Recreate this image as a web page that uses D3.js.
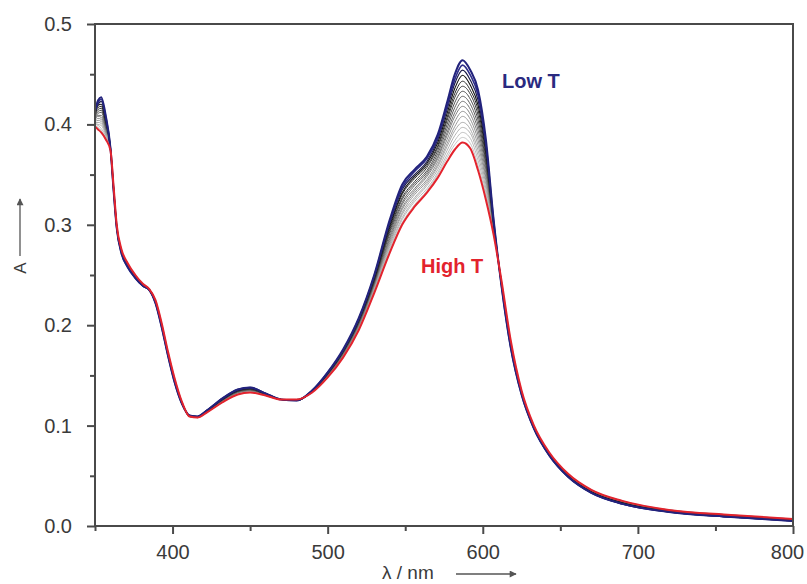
<!DOCTYPE html>
<html>
<head>
<meta charset="utf-8">
<script src="https://cdn.jsdelivr.net/npm/d3@7/dist/d3.min.js"></script>
<style>
  html, body { margin: 0; padding: 0; background: #fff; }
  svg { display: block; }
</style>
</head>
<body>
<svg id="chart" width="807" height="584"></svg>
<script>
// Wavelength grid (nm) shared by every spectrum
const wavelengths = [350,352,354,357,360,362,364,367,371,376,381,385,389,393,397,401,406,411,416,422,432,442,450,460,470,480,490,500,510,520,530,540,548,556,564,571,577,582,587,592,597,602,607,612,618,625,633,643,655,670,690,720,760,800];

// Absorbance spectra, from the lowest temperature to the highest
const lowT   = [0.414,0.424,0.427,0.408,0.376,0.334,0.297,0.272,0.258,0.247,0.239,0.235,0.222,0.198,0.170,0.145,0.122,0.110,0.109,0.115,0.127,0.136,0.138,0.132,0.126,0.125,0.135,0.153,0.176,0.207,0.250,0.305,0.340,0.355,0.368,0.390,0.422,0.450,0.464,0.454,0.434,0.385,0.305,0.240,0.178,0.131,0.097,0.070,0.049,0.033,0.022,0.014,0.009,0.005];
const step02 = [0.413,0.422,0.425,0.407,0.376,0.334,0.297,0.272,0.258,0.247,0.239,0.235,0.222,0.198,0.170,0.145,0.122,0.110,0.109,0.115,0.127,0.136,0.138,0.132,0.126,0.125,0.135,0.153,0.175,0.206,0.249,0.303,0.337,0.353,0.366,0.387,0.418,0.445,0.459,0.449,0.429,0.381,0.304,0.240,0.178,0.131,0.097,0.070,0.049,0.033,0.022,0.014,0.009,0.005];
const step03 = [0.412,0.420,0.423,0.405,0.376,0.335,0.297,0.273,0.259,0.247,0.239,0.235,0.222,0.199,0.171,0.146,0.122,0.110,0.109,0.115,0.126,0.135,0.137,0.132,0.126,0.125,0.135,0.152,0.175,0.205,0.248,0.301,0.335,0.350,0.363,0.385,0.415,0.441,0.454,0.444,0.424,0.377,0.303,0.241,0.179,0.132,0.097,0.070,0.049,0.033,0.022,0.014,0.009,0.005];
const step04 = [0.411,0.419,0.420,0.404,0.376,0.335,0.298,0.273,0.259,0.248,0.239,0.235,0.223,0.199,0.171,0.146,0.122,0.110,0.109,0.115,0.126,0.135,0.137,0.132,0.126,0.125,0.135,0.152,0.174,0.205,0.247,0.299,0.332,0.348,0.361,0.382,0.411,0.436,0.449,0.439,0.419,0.374,0.302,0.241,0.179,0.132,0.098,0.071,0.050,0.034,0.023,0.014,0.009,0.005];
const step05 = [0.410,0.417,0.418,0.402,0.375,0.335,0.298,0.273,0.259,0.248,0.240,0.235,0.223,0.199,0.171,0.146,0.123,0.110,0.109,0.114,0.126,0.135,0.137,0.131,0.126,0.125,0.134,0.152,0.174,0.204,0.245,0.297,0.330,0.346,0.359,0.379,0.407,0.431,0.443,0.434,0.414,0.370,0.301,0.241,0.180,0.132,0.098,0.071,0.050,0.034,0.023,0.015,0.010,0.006];
const step06 = [0.409,0.415,0.416,0.401,0.375,0.335,0.298,0.273,0.259,0.248,0.240,0.235,0.223,0.199,0.171,0.146,0.123,0.110,0.109,0.114,0.126,0.134,0.136,0.131,0.126,0.125,0.134,0.151,0.173,0.203,0.244,0.295,0.327,0.343,0.357,0.377,0.404,0.427,0.438,0.430,0.409,0.366,0.300,0.242,0.180,0.132,0.098,0.071,0.050,0.034,0.023,0.015,0.010,0.006];
const step07 = [0.408,0.413,0.414,0.399,0.375,0.336,0.298,0.274,0.260,0.248,0.240,0.235,0.223,0.200,0.172,0.147,0.123,0.110,0.109,0.114,0.125,0.134,0.136,0.131,0.126,0.125,0.134,0.151,0.173,0.202,0.243,0.293,0.325,0.341,0.354,0.374,0.400,0.422,0.433,0.425,0.404,0.362,0.299,0.242,0.181,0.133,0.098,0.071,0.050,0.034,0.023,0.015,0.010,0.006];
const step08 = [0.407,0.411,0.412,0.398,0.375,0.336,0.298,0.274,0.260,0.248,0.240,0.235,0.223,0.200,0.172,0.147,0.123,0.110,0.109,0.114,0.125,0.134,0.136,0.131,0.126,0.125,0.134,0.151,0.172,0.202,0.242,0.291,0.322,0.339,0.352,0.371,0.396,0.417,0.428,0.420,0.399,0.359,0.298,0.242,0.181,0.133,0.098,0.071,0.050,0.034,0.023,0.015,0.010,0.006];
const step09 = [0.406,0.409,0.409,0.396,0.375,0.336,0.299,0.274,0.260,0.249,0.240,0.236,0.224,0.200,0.172,0.147,0.123,0.109,0.108,0.114,0.125,0.133,0.135,0.131,0.126,0.126,0.134,0.150,0.172,0.201,0.241,0.288,0.320,0.336,0.350,0.368,0.392,0.412,0.423,0.415,0.394,0.355,0.297,0.243,0.182,0.133,0.099,0.072,0.051,0.035,0.024,0.015,0.010,0.006];
const step10 = [0.405,0.408,0.407,0.395,0.375,0.336,0.299,0.274,0.260,0.249,0.240,0.236,0.224,0.200,0.172,0.147,0.123,0.109,0.108,0.114,0.125,0.133,0.135,0.131,0.126,0.126,0.134,0.150,0.171,0.200,0.240,0.286,0.317,0.334,0.348,0.366,0.389,0.408,0.418,0.410,0.389,0.351,0.297,0.243,0.182,0.133,0.099,0.072,0.051,0.035,0.024,0.015,0.010,0.006];
const step11 = [0.404,0.406,0.405,0.394,0.375,0.337,0.299,0.275,0.261,0.249,0.240,0.236,0.224,0.201,0.173,0.148,0.123,0.109,0.108,0.114,0.124,0.133,0.135,0.131,0.126,0.126,0.134,0.150,0.171,0.199,0.239,0.284,0.315,0.332,0.345,0.363,0.385,0.403,0.413,0.405,0.384,0.347,0.296,0.243,0.182,0.134,0.099,0.072,0.051,0.035,0.024,0.015,0.010,0.006];
const step12 = [0.403,0.404,0.403,0.392,0.375,0.337,0.299,0.275,0.261,0.249,0.240,0.236,0.224,0.201,0.173,0.148,0.123,0.109,0.108,0.114,0.124,0.133,0.135,0.131,0.126,0.126,0.134,0.150,0.170,0.199,0.238,0.282,0.312,0.330,0.343,0.360,0.381,0.398,0.408,0.400,0.379,0.344,0.295,0.243,0.183,0.134,0.099,0.072,0.051,0.035,0.024,0.015,0.010,0.006];
const step13 = [0.402,0.402,0.401,0.391,0.374,0.337,0.299,0.275,0.261,0.249,0.241,0.236,0.224,0.201,0.173,0.148,0.124,0.109,0.108,0.113,0.124,0.132,0.134,0.130,0.126,0.126,0.133,0.149,0.170,0.198,0.236,0.280,0.310,0.327,0.341,0.358,0.378,0.394,0.402,0.395,0.374,0.340,0.294,0.244,0.183,0.134,0.099,0.072,0.051,0.035,0.024,0.016,0.011,0.007];
const step14 = [0.401,0.400,0.399,0.389,0.374,0.337,0.299,0.275,0.261,0.249,0.241,0.236,0.224,0.201,0.173,0.148,0.124,0.109,0.108,0.113,0.124,0.132,0.134,0.130,0.126,0.126,0.133,0.149,0.169,0.197,0.235,0.278,0.307,0.325,0.339,0.355,0.374,0.389,0.397,0.391,0.369,0.336,0.293,0.244,0.184,0.134,0.099,0.072,0.051,0.035,0.024,0.016,0.011,0.007];
const step15 = [0.400,0.399,0.396,0.388,0.374,0.338,0.300,0.276,0.262,0.250,0.241,0.236,0.225,0.202,0.174,0.149,0.124,0.109,0.108,0.113,0.123,0.132,0.134,0.130,0.126,0.126,0.133,0.149,0.169,0.196,0.234,0.276,0.305,0.323,0.336,0.352,0.370,0.384,0.392,0.386,0.364,0.332,0.292,0.244,0.184,0.135,0.100,0.073,0.052,0.036,0.025,0.016,0.011,0.007];
const step16 = [0.399,0.397,0.394,0.386,0.374,0.338,0.300,0.276,0.262,0.250,0.241,0.236,0.225,0.202,0.174,0.149,0.124,0.109,0.108,0.113,0.123,0.131,0.133,0.130,0.126,0.126,0.133,0.148,0.168,0.196,0.233,0.274,0.302,0.320,0.334,0.350,0.367,0.380,0.387,0.381,0.359,0.329,0.291,0.245,0.185,0.135,0.100,0.073,0.052,0.036,0.025,0.016,0.011,0.007];
const highT  = [0.398,0.395,0.392,0.385,0.374,0.338,0.300,0.276,0.262,0.250,0.241,0.236,0.225,0.202,0.174,0.149,0.124,0.109,0.108,0.113,0.123,0.131,0.133,0.130,0.126,0.126,0.133,0.148,0.168,0.195,0.232,0.272,0.300,0.318,0.332,0.347,0.363,0.375,0.382,0.376,0.354,0.325,0.290,0.245,0.185,0.135,0.100,0.073,0.052,0.036,0.025,0.016,0.011,0.007];

const spectra = [lowT, step02, step03, step04, step05, step06, step07, step08, step09,
                 step10, step11, step12, step13, step14, step15, step16, highT];

// Axis ticks
const xMajorTicks = [400, 500, 600, 700, 800];
const xMinorTicks = [350, 450, 550, 650, 750];
const yMajorTicks = [0.0, 0.1, 0.2, 0.3, 0.4, 0.5];
const yMinorTicks = [0.05, 0.15, 0.25, 0.35, 0.45];

// Line colours: navy for the coldest traces, a black-to-grey ramp, red for the hottest
const traceColors = ["#22227c", "#2c2c88", "#1b1b48", "#141414", "#272727", "#393939",
                     "#4b4b4b", "#5d5d5d", "#6f6f6f", "#808080", "#8e8e8e", "#9b9b9b",
                     "#a7a7a7", "#b2b2b2", "#bcbcbc", "#c5c5c5", "#e3232d"];
const traceWidths = [2, 1.6, 1.2, 1.1, 1, 1, 1, 1, 1, 1, 1, 1, 1, 1, 1, 1, 2];

const W = 807, H = 584;
const margin = { top: 24, right: 14, bottom: 58, left: 95 };
const plotW = W - margin.left - margin.right;
const plotH = H - margin.top - margin.bottom;
const font = "'Liberation Sans', Arial, Helvetica, sans-serif";
const axisGrey = "#4a4a4a";

const svg = d3.select("#chart");
const g = svg.append("g").attr("transform", `translate(${margin.left},${margin.top})`);

const x = d3.scaleLinear().domain([350, 800]).range([0, plotW]);
const y = d3.scaleLinear().domain([0, 0.5]).range([plotH, 0]);

g.append("clipPath").attr("id", "plot-clip")
  .append("rect").attr("x", 0).attr("y", 0).attr("width", plotW).attr("height", plotH);

// Spectra
const line = d3.line()
  .x((d, i) => x(wavelengths[i]))
  .y(d => y(d))
  .curve(d3.curveMonotoneX);

const drawOrder = [15, 14, 13, 12, 11, 10, 9, 8, 7, 6, 5, 4, 3, 2, 1, 0, 16];
const curves = g.append("g").attr("clip-path", "url(#plot-clip)");
drawOrder.forEach(k => {
  curves.append("path")
    .attr("d", line(spectra[k]))
    .attr("fill", "none")
    .attr("stroke", traceColors[k])
    .attr("stroke-width", traceWidths[k])
    .attr("stroke-linejoin", "round");
});

// Axes
function styleAxis(sel) {
  sel.select(".domain").remove();
  sel.selectAll(".tick line").attr("stroke", axisGrey).attr("stroke-width", 2);
  sel.selectAll(".tick text")
    .attr("fill", "#3a3a3a")
    .style("font-family", font)
    .style("font-size", "20px");
}

const xAxisMajor = g.append("g").attr("transform", `translate(0,${plotH})`)
  .call(d3.axisBottom(x).tickValues(xMajorTicks).tickSize(8).tickPadding(11).tickFormat(d3.format("d")))
  .call(styleAxis);
// keep the last label inside the page edge
xAxisMajor.selectAll(".tick text").filter(d => d === 800).attr("dx", -6);

g.append("g").attr("transform", `translate(0,${plotH})`)
  .call(d3.axisBottom(x).tickValues(xMinorTicks).tickSize(5).tickFormat(""))
  .call(styleAxis);

g.append("g")
  .call(d3.axisLeft(y).tickValues(yMajorTicks).tickSize(8).tickPadding(15).tickFormat(d3.format(".1f")))
  .call(styleAxis);
g.append("g")
  .call(d3.axisLeft(y).tickValues(yMinorTicks).tickSize(5).tickFormat(""))
  .call(styleAxis);

// Frame
g.append("rect")
  .attr("x", 0).attr("y", 0).attr("width", plotW).attr("height", plotH)
  .attr("fill", "none").attr("stroke", axisGrey).attr("stroke-width", 2);

// Arrow marker for the axis titles
const defs = svg.append("defs");
defs.append("marker").attr("id", "arrowhead")
  .attr("viewBox", "0 0 10 10").attr("refX", 9).attr("refY", 5)
  .attr("markerWidth", 9).attr("markerHeight", 7).attr("markerUnits", "userSpaceOnUse")
  .attr("orient", "auto")
  .append("path").attr("d", "M0,0 L10,5 L0,10 Z").attr("fill", "#555");

// y-axis title: A with an upward arrow
svg.append("text")
  .attr("transform", "translate(26,268) rotate(-90)")
  .attr("text-anchor", "middle")
  .style("font-family", font).style("font-size", "17px").attr("fill", "#3a3a3a")
  .text("A");
svg.append("line")
  .attr("x1", 20).attr("y1", 256).attr("x2", 20).attr("y2", 199)
  .attr("stroke", "#555").attr("stroke-width", 1.3)
  .attr("marker-end", "url(#arrowhead)");

// x-axis title: λ / nm with a rightward arrow
svg.append("text")
  .attr("x", 382).attr("y", 579)
  .style("font-family", font).style("font-size", "19px").attr("fill", "#3a3a3a")
  .text("λ / nm");
svg.append("line")
  .attr("x1", 456).attr("y1", 574).attr("x2", 516).attr("y2", 574)
  .attr("stroke", "#555").attr("stroke-width", 1.3)
  .attr("marker-end", "url(#arrowhead)");

// Series labels
svg.append("text")
  .attr("x", 502).attr("y", 88)
  .style("font-family", font).style("font-size", "20px").style("font-weight", "bold")
  .attr("fill", "#2a2a80")
  .text("Low T");
svg.append("text")
  .attr("x", 421).attr("y", 273)
  .style("font-family", font).style("font-size", "20px").style("font-weight", "bold")
  .attr("fill", "#e3232d")
  .text("High T");
</script>
</body>
</html>
